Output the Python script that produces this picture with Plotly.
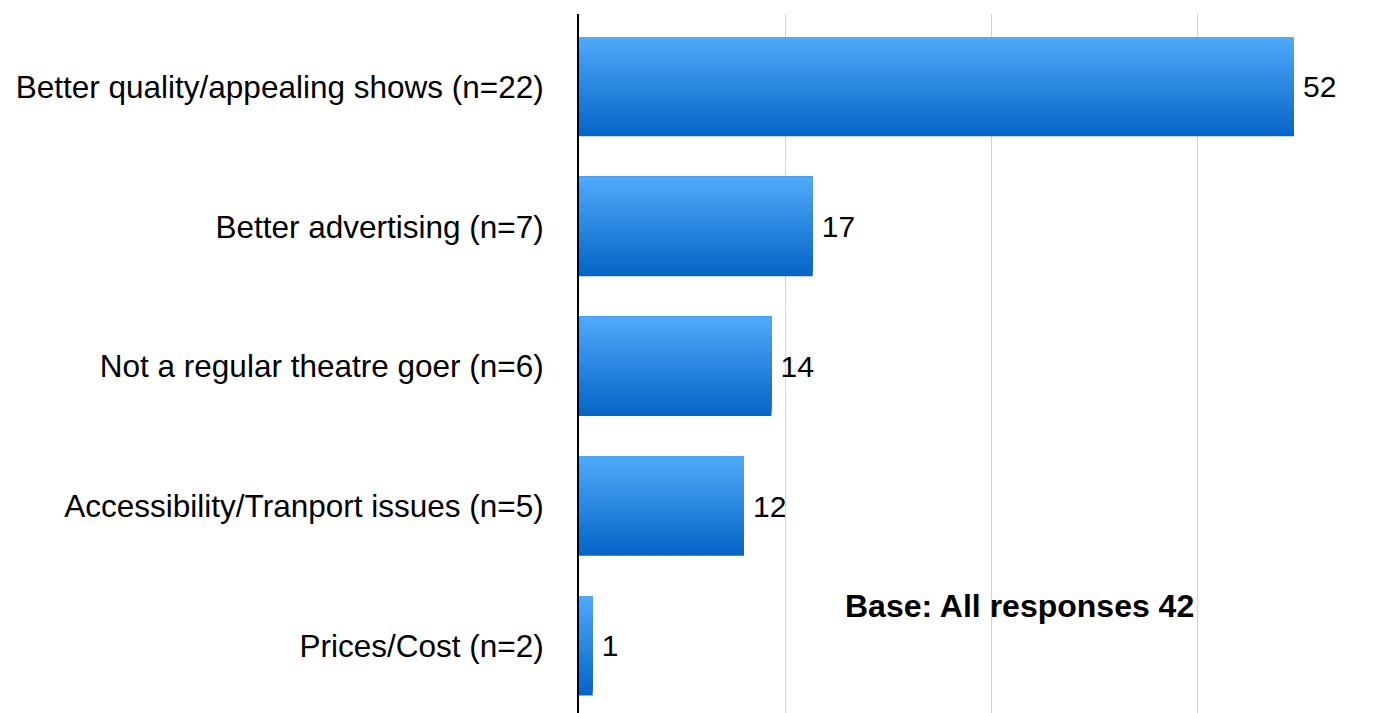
import plotly.graph_objects as go

categories = [
    "Better quality/appealing shows (n=22)",
    "Better advertising (n=7)",
    "Not a regular theatre goer (n=6)",
    "Accessibility/Tranport issues (n=5)",
    "Prices/Cost (n=2)",
]
values = [52, 17, 14, 12, 1]
note_text = "Base: All responses 42"

top_rgb = (80, 170, 250)
bot_rgb = (4, 100, 198)
N = 24
W = 0.71
FONT = "Liberation Sans, Arial, Helvetica, sans-serif"

fig = go.Figure()
for i in range(N):
    t = (N - i - 0.5) / N
    c = tuple(round(top_rgb[k] + (bot_rgb[k] - top_rgb[k]) * t) for k in range(3))
    fig.add_trace(go.Bar(
        y=categories, x=values, orientation="h",
        width=W * (N - i) / N, offset=-W / 2,
        marker=dict(color="rgb(%d,%d,%d)" % c, line=dict(width=0)),
        text=["\u2009" + str(v) for v in values] if i == 0 else None,
        textposition="outside" if i == 0 else "none",
        textfont=dict(size=30, color="black", family=FONT),
        hoverinfo="skip", showlegend=False, cliponaxis=False,
    ))

fig.update_layout(
    width=1384, height=705,
    margin=dict(l=571, r=0, t=6, b=0),
    barmode="overlay",
    plot_bgcolor="white", paper_bgcolor="white",
    font=dict(family=FONT, size=30, color="black"),
    xaxis=dict(range=[0, 59.13], dtick=15, showgrid=True, gridcolor="#d3d3d3", gridwidth=1,
               zeroline=False, showticklabels=False, showline=False),
    yaxis=dict(range=[4.48, -0.52], showline=True, linecolor="black", linewidth=2,
               showgrid=False, ticks="", ticklabelstandoff=27,
               tickfont=dict(size=31.5, color="black", family=FONT)),
    annotations=[dict(
        text="<b>" + note_text + "</b>", xref="paper", yref="paper",
        x=0.5418, y=0.153, xanchor="center", yanchor="middle", showarrow=False,
        font=dict(size=32, color="black", family=FONT),
    )],
)

fig.write_html("out.html")
